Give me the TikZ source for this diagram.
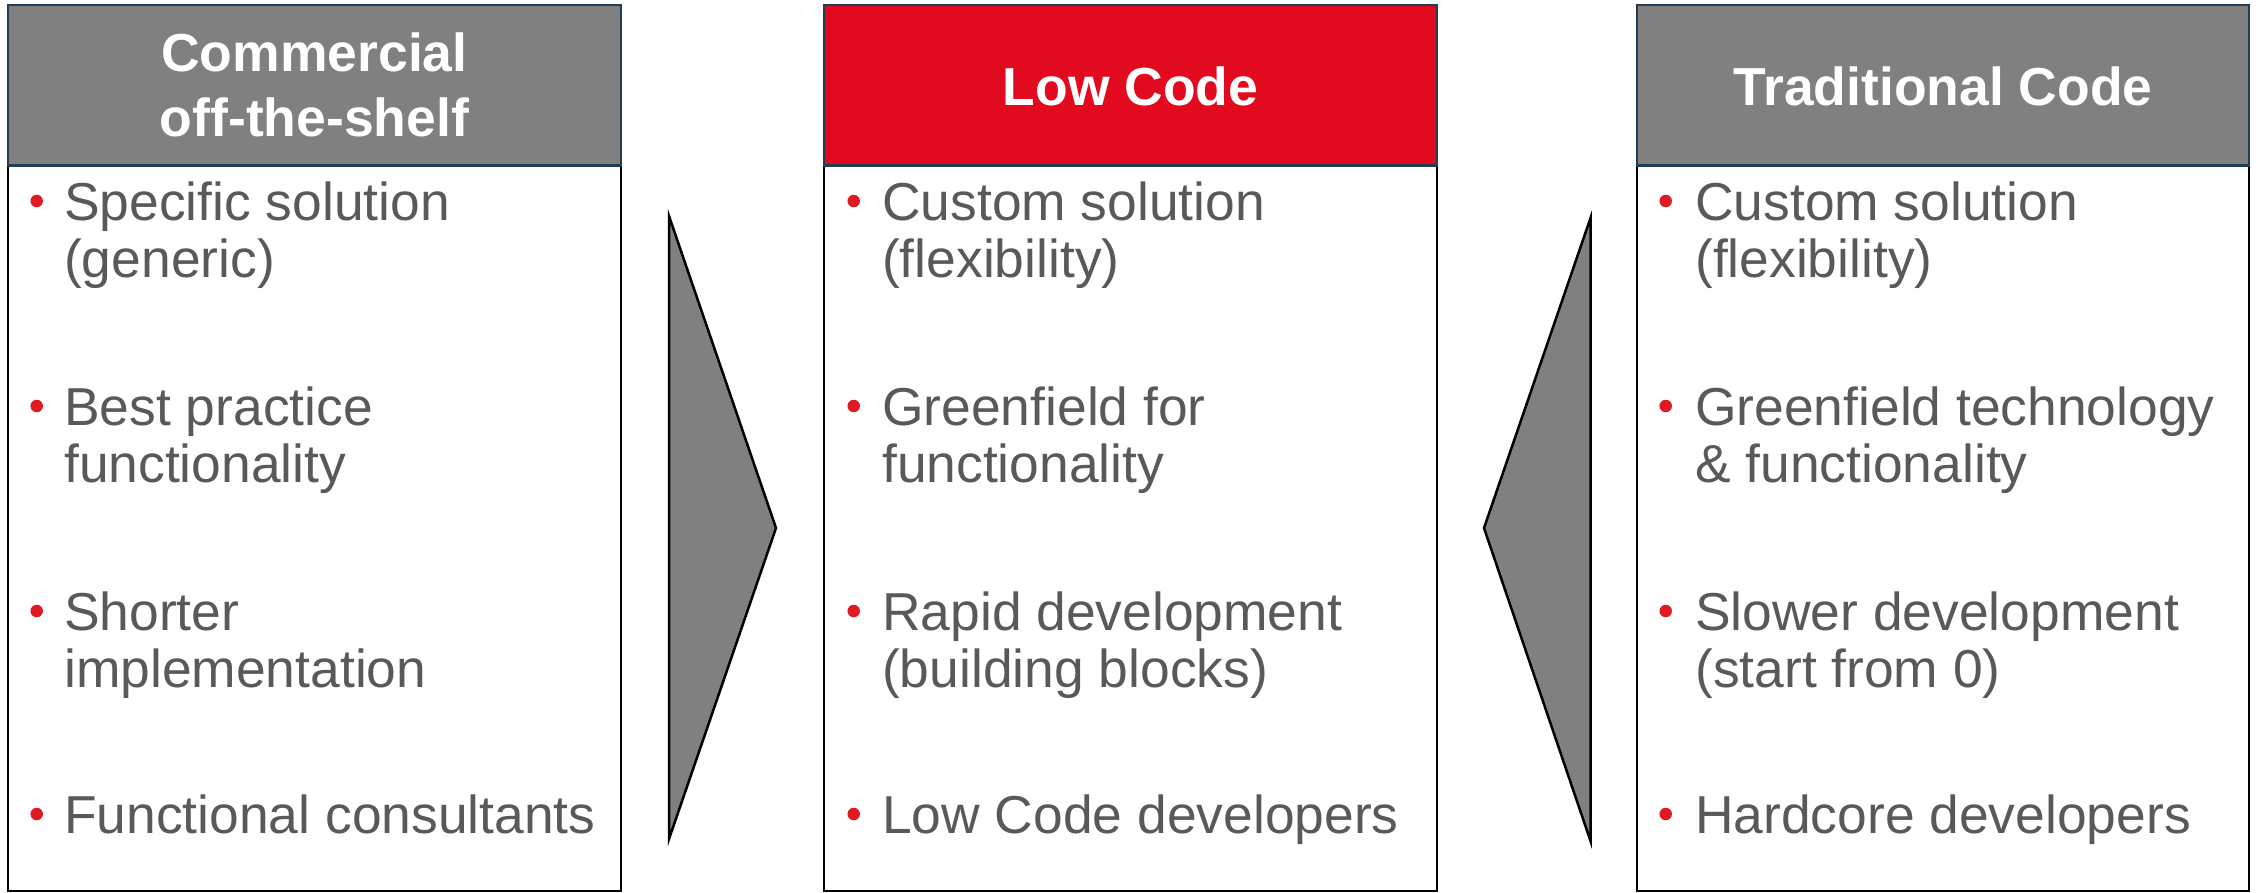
\documentclass[tikz,border=0pt]{standalone}
\usepackage{fontspec}
\setmainfont{Liberation Sans}
\definecolor{txtgray}{HTML}{595959}
\definecolor{hdrgray}{HTML}{808080}
\definecolor{hdrred}{HTML}{E20A1E}
\definecolor{hdrline}{HTML}{203F55}
\definecolor{bulred}{HTML}{E01A22}
\begin{document}
\begin{tikzpicture}[x=1pt,y=-1pt,
  bodybox/.style={draw=black,line width=2pt,fill=white},
  hdrbox/.style={draw=hdrline,line width=2.5pt},
  htext/.style={anchor=base,inner sep=0pt,text=white,font=\fontsize{53.5}{64.5}\selectfont\bfseries},
  itemtext/.style={anchor=base west,inner sep=0pt,text=txtgray,font=\fontsize{53.4}{57.5}\selectfont},
  bul/.style={circle,fill=bulred,inner sep=0pt,minimum size=12.5pt},
  tri/.style={fill=hdrgray,draw=black,line width=2.5pt,line join=miter}]
\useasboundingbox (0,0) rectangle (2256,892);
% column bodies
\draw[bodybox] (8,165.5) rectangle (621,891);
\draw[bodybox] (824,165.5) rectangle (1437,891);
\draw[bodybox] (1637,165.5) rectangle (2249,891);
% headers
\fill[hdrgray] (8,5) rectangle (621,165.5);
\draw[hdrbox] (8,5) rectangle (621,165.5);
\fill[hdrred] (824,5) rectangle (1437,165.5);
\draw[hdrbox] (824,5) rectangle (1437,165.5);
\fill[hdrgray] (1637,5) rectangle (2249,165.5);
\draw[hdrbox] (1637,5) rectangle (2249,165.5);
\node[htext] (hL) at (314.5,71.7) {\begin{tabular}[t]{@{}c@{}}Commercial\\off-the-shelf\end{tabular}};
\node[htext] (hM) at (1130.5,105) {Low Code};
\node[htext] (hR) at (1943,105) {Traditional Code};
% triangles
\coordinate (tLa) at (669,216);
\coordinate (tLb) at (669,839);
\coordinate (tLc) at (776,528);
\draw[tri] (tLa) -- (tLc) -- (tLb) -- cycle;
\coordinate (tRa) at (1590.5,218);
\coordinate (tRb) at (1590.5,841);
\coordinate (tRc) at (1484,528);
\draw[tri] (tRa) -- (tRc) -- (tRb) -- cycle;
% left items
\node[bul] (bL1) at (36.7,201) {};
\node[bul] (bL2) at (36.7,406) {};
\node[bul] (bL3) at (36.7,611) {};
\node[bul] (bL4) at (36.7,814) {};
\node[itemtext] (iL1) at (64,220) {\begin{tabular}[t]{@{}l@{}}Specific solution\\(generic)\end{tabular}};
\node[itemtext] (iL2) at (64,425) {\begin{tabular}[t]{@{}l@{}}Best practice\\functionality\end{tabular}};
\node[itemtext] (iL3) at (64,630) {\begin{tabular}[t]{@{}l@{}}Shorter\\implementation\end{tabular}};
\node[itemtext] (iL4) at (64,833) {Functional consultants};
% middle items
\node[bul] (bM1) at (853.7,201) {};
\node[bul] (bM2) at (853.7,406) {};
\node[bul] (bM3) at (853.7,611) {};
\node[bul] (bM4) at (853.7,814) {};
\node[itemtext] (iM1) at (882,220) {\begin{tabular}[t]{@{}l@{}}Custom solution\\(flexibility)\end{tabular}};
\node[itemtext] (iM2) at (882,425) {\begin{tabular}[t]{@{}l@{}}Greenfield for\\functionality\end{tabular}};
\node[itemtext] (iM3) at (882,630) {\begin{tabular}[t]{@{}l@{}}Rapid development\\(building blocks)\end{tabular}};
\node[itemtext] (iM4) at (882,833) {Low Code developers};
% right items
\node[bul] (bR1) at (1665.7,201) {};
\node[bul] (bR2) at (1665.7,406) {};
\node[bul] (bR3) at (1665.7,611) {};
\node[bul] (bR4) at (1665.7,814) {};
\node[itemtext] (iR1) at (1695,220) {\begin{tabular}[t]{@{}l@{}}Custom solution\\(flexibility)\end{tabular}};
\node[itemtext] (iR2) at (1695,425) {\begin{tabular}[t]{@{}l@{}}Greenfield technology\\\& functionality\end{tabular}};
\node[itemtext] (iR3) at (1695,630) {\begin{tabular}[t]{@{}l@{}}Slower development\\(start from 0)\end{tabular}};
\node[itemtext] (iR4) at (1695,833) {Hardcore developers};
\end{tikzpicture}
\end{document}
